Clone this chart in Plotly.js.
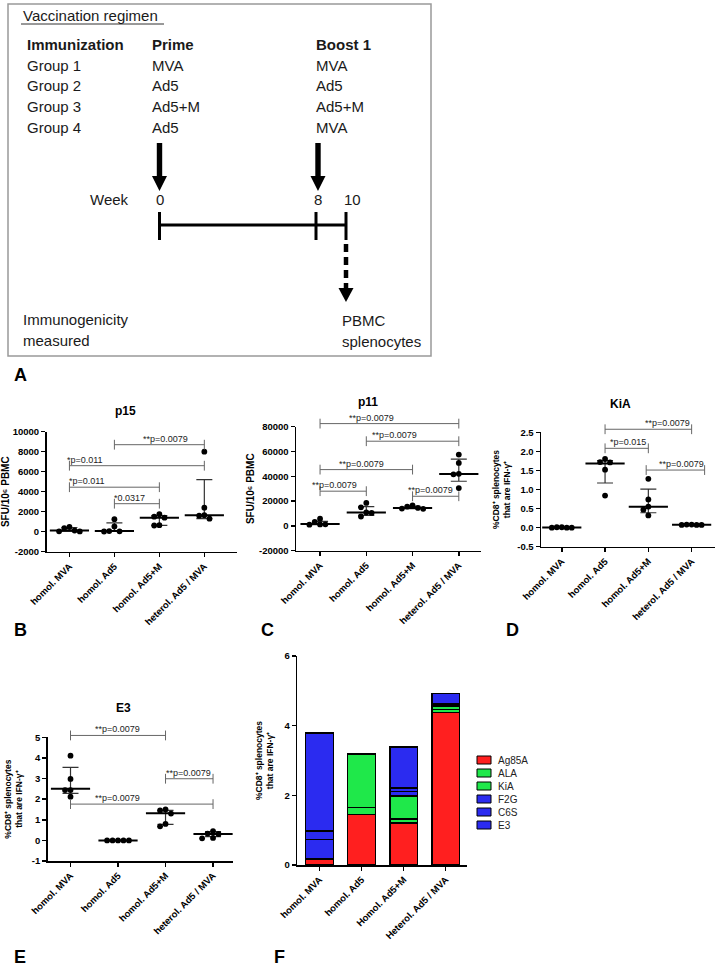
<!DOCTYPE html>
<html><head><meta charset="utf-8">
<script src="https://cdn.plot.ly/plotly-3.0.1.min.js"></script>
<style>html,body{margin:0;padding:0;background:#fff}#chart{width:716px;height:966px}</style>
</head><body><div id="chart"></div>
<script>
// ================= DATA =================
const groups  = ['homol. MVA', 'homol. Ad5', 'homol. Ad5+M', 'heterol. Ad5 / MVA'];
const groupsF = ['homol. MVA', 'homol. Ad5', 'Homol. Ad5+M', 'Heterol. Ad5 / MVA'];

// Panel B: p15 (SFU/10^6 PBMC)
const p15Values = [[480, 120, 30, 40, 360], [1250, 520, 40, 60, 20], [1500, 1400, 1750, 650, 620], [8000, 2400, 1600, 1300, 1650]];
const p15Median = [120, 60, 1400, 1650];
const p15Low    = [35, 30, 635, 1300];
const p15High   = [420, 880, 1620, 5200];
const p15SigFrom = [1, 0, 0, 1];
const p15SigTo   = [3, 3, 2, 2];
const p15SigY    = [8700, 6600, 4450, 2800];
const p15SigText = ['**p=0.0079', '*p=0.011', '*p=0.011', '*0.0317'];

// Panel C: p11 (SFU/10^6 PBMC)
const p11Values = [[5800, 1300, 1000, 1200, 3200], [18500, 15000, 10800, 10500, 7600], [16500, 15500, 14000, 13800, 14500], [57500, 50800, 41600, 42000, 30500]];
const p11Median = [1500, 10800, 14500, 41800];
const p11Low    = [1100, 8500, 14000, 36000];
const p11High   = [3700, 15500, 15800, 53800];
const p11SigFrom = [0, 1, 0, 0, 2];
const p11SigTo   = [3, 3, 2, 1, 3];
const p11SigY    = [82500, 68300, 45400, 28000, 23900];
const p11SigText = ['**p=0.0079', '**p=0.0079', '**p=0.0079', '**p=0.0079', '**p=0.0079'];

// Panel D: KiA (%CD8+ IFN-g+)
const kiaValues = [[0.01, 0.0, 0.0, 0.0, 0.01], [1.80, 1.71, 1.72, 1.52, 0.84], [1.28, 0.74, 0.55, 0.47, 0.32], [0.08, 0.07, 0.07, 0.08, 0.07]];
const kiaMedian = [0.005, 1.68, 0.55, 0.075];
const kiaLow    = [0.0, 1.17, 0.39, 0.07];
const kiaHigh   = [0.01, 1.76, 1.01, 0.08];
const kiaSigFrom = [1, 1, 1.95];
const kiaSigTo   = [3, 2, 3.3];
const kiaSigY    = [2.58, 2.08, 1.51];
const kiaSigText = ['**p=0.0079', '*p=0.015', '**p=0.0079'];

// Panel E: E3 (%CD8+ IFN-g+)
const e3Values = [[4.11, 2.98, 2.44, 2.44, 2.12], [0, 0, 0, 0, 0], [1.45, 1.50, 1.30, 0.80, 0.68], [0.45, 0.31, 0.33, 0.10, 0.12]];
const e3Median = [2.50, 0.0, 1.32, 0.31];
const e3Low    = [2.28, 0.0, 0.78, 0.18];
const e3High   = [3.54, 0.0, 1.46, 0.42];
const e3SigFrom = [0, 2, 0];
const e3SigTo   = [2, 3, 3];
const e3SigY    = [5.09, 2.99, 1.76];
const e3SigText = ['**p=0.0079', '**p=0.0079', '**p=0.0079'];

// Panel F: stacked means per antigen
const antigens = ['Ag85A', 'ALA', 'KiA', 'F2G', 'C6S', 'E3'];
const stackAg85A = [0.16, 1.45, 1.20, 4.38];
const stackALA   = [0.01, 0.20, 0.12, 0.09];
const stackKiA   = [0.01, 1.52, 0.66, 0.08];
const stackF2G   = [0.55, 0.01, 0.13, 0.05];
const stackC6S   = [0.24, 0.01, 0.10, 0.04];
const stackE3    = [2.82, 0.00, 1.18, 0.29];

// ================= STYLE / LAYOUT HELPERS =================
const W = 716, H = 966;
const FONT = 'Liberation Sans, Arial, sans-serif';
const px = x => x / W;
const py = y => 1 - y / H;
const P = (x, y) => px(x).toFixed(5) + ',' + py(y).toFixed(5);
const RED = '#ff1f1f', GREEN = '#1fe84a', BLUE = '#2b2bf0';

const traces = [];
const shapes = [];
const annotations = [];
const layout = {
  width: W, height: H, margin: {l: 0, r: 0, t: 0, b: 0},
  paper_bgcolor: '#ffffff', plot_bgcolor: 'rgba(0,0,0,0)',
  showlegend: false, barmode: 'stack', font: {family: FONT, color: '#000', size: 10},
  shapes: shapes, annotations: annotations
};

const labelX = {  // label anchor positions (category units) for the p-value texts
  p15: [2.13, 0.35, 0.40, 1.33],
  p11: [1.12, 1.62, 0.90, 0.32, 2.38],
  kia: [2.44, 1.52, 2.77],
  e3:  [0.98, 2.49, 0.98]
};

function axName(id) { return id.charAt(0) + 'axis' + id.slice(1); }

function swarm(vals, ySpan, plotPx) {
  const thr = ySpan * 5.6 / plotPx;
  const d = 0.115;
  const order = vals.map((v, i) => i).sort((a, b) => vals[b] - vals[a]);
  const placed = [];
  const xs = new Array(vals.length);
  order.forEach(i => {
    const v = vals[i];
    const cands = [0, -1, 1, -2, 2, -3, 3];
    for (const k of cands) {
      const x = k * d;
      const clash = placed.some(p => Math.abs(p.x - x) < d * 0.95 && Math.abs(p.y - v) < thr);
      if (!clash) { placed.push({x: x, y: v}); xs[i] = x; break; }
    }
  });
  return xs;
}

function axisCommon() {
  return {
    showline: true, linecolor: '#000', linewidth: 1.5, mirror: false,
    ticks: 'outside', ticklen: 4, tickwidth: 1.5, tickcolor: '#000',
    showgrid: false, zeroline: false, fixedrange: true,
    tickfont: {family: FONT, size: 9.5, color: '#000', weight: 'bold'}
  };
}

function scatterPanel(c) {
  const dom = [px(c.xPx[0]), px(c.xPx[1])];
  const ydom = [py(c.yPx[1]), py(c.yPx[0])];
  const ySpan = c.yr[1] - c.yr[0];
  const plotPx = c.yPx[1] - c.yPx[0];
  layout[axName(c.xa)] = Object.assign(axisCommon(), {
    domain: dom, range: c.xr, anchor: c.ya, tickmode: 'array',
    tickvals: [0, 1, 2, 3], ticktext: c.cats || groups, tickangle: -45
  });
  layout[axName(c.ya)] = Object.assign(axisCommon(), {
    domain: ydom, range: c.yr, anchor: c.xa, tickmode: 'array', tickvals: c.yTicks,
    ticktext: c.yTickText,
    title: {text: c.ytitle, font: {family: FONT, size: c.ytitleSize || 9, color: '#000', weight: 'bold'}, standoff: c.standoff || 3}
  });
  // extended invisible axis (same scale) so that significance brackets are not clipped
  const ext = 0.04;
  const perDom = ySpan / (ydom[1] - ydom[0]);
  layout[axName(c.sa)] = {
    domain: [ydom[0], ydom[1] + ext], range: [c.yr[0], c.yr[1] + ext * perDom],
    anchor: c.xa, visible: false, fixedrange: true
  };
  // median + interquartile range
  traces.push({
    type: 'scatter', mode: 'markers', x: [0, 1, 2, 3], y: c.median,
    xaxis: c.xa, yaxis: c.ya, hoverinfo: 'skip',
    marker: {symbol: 'line-ew-open', size: 28, color: '#000', line: {width: 2, color: '#000'}},
    error_y: {type: 'data', symmetric: false,
      array: c.high.map((h, i) => h - c.median[i]),
      arrayminus: c.low.map((l, i) => c.median[i] - l),
      width: 8, thickness: 1.2, color: '#333'}
  });
  // individual animals
  const xs = [], ys = [];
  c.values.forEach((vals, g) => {
    const off = swarm(vals, ySpan, plotPx);
    vals.forEach((v, i) => { xs.push(g + off[i]); ys.push(v); });
  });
  traces.push({
    type: 'scatter', mode: 'markers', x: xs, y: ys, xaxis: c.xa, yaxis: c.ya,
    hoverinfo: 'skip', marker: {symbol: 'circle', size: 5.8, color: '#000'}
  });
  // significance brackets
  c.sigFrom.forEach((a, i) => {
    const b = c.sigTo[i], h = c.sigY[i];
    traces.push({
      type: 'scatter', mode: 'lines+markers', x: [a, b], y: [h, h],
      xaxis: c.xa, yaxis: c.sa, hoverinfo: 'skip',
      line: {color: '#666', width: 1},
      marker: {symbol: 'line-ns-open', size: 7, line: {color: '#666', width: 1}}
    });
    annotations.push({
      xref: c.xa, yref: c.sa, x: c.sigLabelX[i], y: h, text: c.sigText[i],
      showarrow: false, xanchor: 'center', yanchor: 'bottom', yshift: -1,
      font: {family: FONT, size: 9, color: '#222'}
    });
  });
}

const cd8Title = '%CD8⁺ splenocytes<br>that are IFN-γ⁺';
const sfuTitle = 'SFU/10⁶ PBMC';

scatterPanel({xa: 'x', ya: 'y', sa: 'y6', xPx: [46.5, 236.7], yPx: [431.7, 551.7], xr: [-0.51, 3.72],
  yr: [-2000, 10000], yTicks: [-2000, 0, 2000, 4000, 6000, 8000, 10000],
  yTickText: ['-2000', '0', '2000', '4000', '6000', '8000', '10000'],
  ytitle: sfuTitle, ytitleSize: 10, standoff: 2,
  values: p15Values, median: p15Median, low: p15Low, high: p15High,
  sigFrom: p15SigFrom, sigTo: p15SigTo, sigY: p15SigY, sigText: p15SigText, sigLabelX: labelX.p15});

scatterPanel({xa: 'x2', ya: 'y2', sa: 'y7', xPx: [296, 481], yPx: [426.7, 550.7], xr: [-0.52, 3.48],
  yr: [-20000, 80000], yTicks: [-20000, 0, 20000, 40000, 60000, 80000],
  yTickText: ['-20000', '0', '20000', '40000', '60000', '80000'],
  ytitle: sfuTitle, ytitleSize: 10, standoff: 2,
  values: p11Values, median: p11Median, low: p11Low, high: p11High,
  sigFrom: p11SigFrom, sigTo: p11SigTo, sigY: p11SigY, sigText: p11SigText, sigLabelX: labelX.p11});

scatterPanel({xa: 'x3', ya: 'y3', sa: 'y8', xPx: [541, 715], yPx: [432.3, 546.7], xr: [-0.48, 3.54],
  yr: [-0.5, 2.5], yTicks: [-0.5, 0, 0.5, 1, 1.5, 2, 2.5],
  yTickText: ['-0.5', '0.0', '0.5', '1.0', '1.5', '2.0', '2.5'],
  ytitle: cd8Title, ytitleSize: 8.5, standoff: 5,
  values: kiaValues, median: kiaMedian, low: kiaLow, high: kiaHigh,
  sigFrom: kiaSigFrom, sigTo: kiaSigTo, sigY: kiaSigY, sigText: kiaSigText, sigLabelX: labelX.kia});

scatterPanel({xa: 'x4', ya: 'y4', sa: 'y9', xPx: [47.7, 233], yPx: [737.3, 861], xr: [-0.48, 3.42],
  yr: [-1, 5], yTicks: [-1, 0, 1, 2, 3, 4, 5],
  yTickText: ['-1', '0', '1', '2', '3', '4', '5'],
  ytitle: cd8Title, ytitleSize: 8.5, standoff: 8,
  values: e3Values, median: e3Median, low: e3Low, high: e3High,
  sigFrom: e3SigFrom, sigTo: e3SigTo, sigY: e3SigY, sigText: e3SigText, sigLabelX: labelX.e3});

// ---------- Panel F: stacked bars ----------
const stackSeries = [stackAg85A, stackALA, stackKiA, stackF2G, stackC6S, stackE3];
const stackColors = [RED, GREEN, GREEN, BLUE, BLUE, BLUE];
stackSeries.forEach((s, i) => {
  traces.push({
    type: 'bar', name: antigens[i], x: [0, 1, 2, 3], y: s, width: 0.66,
    xaxis: 'x5', yaxis: 'y5', hoverinfo: 'skip',
    marker: {color: stackColors[i], line: {color: '#000', width: 1.5}}
  });
});
layout.xaxis5 = Object.assign(axisCommon(), {
  domain: [px(297.3), px(466.7)], range: [-0.53, 3.5], anchor: 'y5',
  tickmode: 'array', tickvals: [0, 1, 2, 3], ticktext: groupsF, tickangle: -45
});
layout.yaxis5 = Object.assign(axisCommon(), {
  domain: [py(865), py(656)], range: [0, 6], anchor: 'x5', tickmode: 'array',
  tickvals: [0, 2, 4, 6], ticktext: ['0', '2', '4', '6'],
  title: {text: cd8Title, font: {family: FONT, size: 8.5, color: '#000', weight: 'bold'}, standoff: 9}
});
// legend for panel F
antigens.forEach((name, i) => {
  const yc = 760 + i * 13;
  shapes.push({type: 'rect', xref: 'paper', yref: 'paper', x0: px(477), x1: px(491), y0: py(yc + 4), y1: py(yc - 4),
    fillcolor: stackColors[i], line: {color: '#000', width: 1}});
  annotations.push({xref: 'paper', yref: 'paper', x: px(496), y: py(yc), text: name, showarrow: false,
    xanchor: 'left', yanchor: 'middle', font: {family: FONT, size: 10, color: '#222'}});
});

// ---------- subplot titles ----------
[['p15', 125, 411], ['p11', 368, 402], ['KiA', 620, 404], ['E3', 123, 708]].forEach(t => {
  annotations.push({xref: 'paper', yref: 'paper', x: px(t[1]), y: py(t[2]), text: t[0],
    showarrow: false, xanchor: 'center', yanchor: 'middle', font: {family: FONT, size: 12, color: '#000', weight: 'bold'}});
});

// ---------- panel letters ----------
[['A', 12, 375], ['B', 12, 630], ['C', 259, 630], ['D', 504, 630], ['E', 12, 957], ['F', 272, 957]].forEach(t => {
  annotations.push({xref: 'paper', yref: 'paper', x: px(t[1]), y: py(t[2]), text: t[0],
    showarrow: false, xanchor: 'left', yanchor: 'middle', font: {family: FONT, size: 18, color: '#000', weight: 'bold'}});
});

// ---------- Panel A: vaccination regimen diagram ----------
shapes.push({type: 'rect', xref: 'paper', yref: 'paper', x0: px(8), x1: px(431), y0: py(356), y1: py(4),
  line: {color: '#999', width: 1.5}, fillcolor: 'rgba(0,0,0,0)'});
shapes.push({type: 'line', xref: 'paper', yref: 'paper', x0: px(21), x1: px(164), y0: py(24), y1: py(24),
  line: {color: '#333', width: 1}});
function dtext(t, x, y, anchor, bold) {
  annotations.push({xref: 'paper', yref: 'paper', x: px(x), y: py(y), text: t, showarrow: false,
    xanchor: anchor || 'left', yanchor: 'middle',
    font: {family: FONT, size: 15, color: '#1a1a1a', weight: bold ? 'bold' : 'normal'}});
}
dtext('Vaccination regimen', 21, 16);
dtext('Immunization', 25, 44, 'left', true);
dtext('Prime', 150, 44, 'left', true);
dtext('Boost 1', 314, 44, 'left', true);
const regimenGroups = ['Group 1', 'Group 2', 'Group 3', 'Group 4'];
const regimenPrime = ['MVA', 'Ad5', 'Ad5+M', 'Ad5'];
const regimenBoost = ['MVA', 'Ad5', 'Ad5+M', 'MVA'];
regimenGroups.forEach((g, i) => {
  const y = 65 + i * 21;
  dtext(g, 25, y); dtext(regimenPrime[i], 150, y); dtext(regimenBoost[i], 314, y);
});
dtext('Week', 88, 200);
dtext('0', 159.5, 200, 'center');
dtext('8', 318, 200, 'center');
dtext('10', 352, 200, 'center');
dtext('Immunogenicity', 21, 319);
dtext('measured', 21, 340);
dtext('PBMC', 340, 320);
dtext('splenocytes', 340, 341);

function arrowPath(x, yTop, yHeadStart, yTip) {
  return 'M' + P(x - 2.7, yTop) + ' L' + P(x + 2.7, yTop) + ' L' + P(x + 2.7, yHeadStart) +
    ' L' + P(x + 7.5, yHeadStart) + ' L' + P(x, yTip) + ' L' + P(x - 7.5, yHeadStart) +
    ' L' + P(x - 2.7, yHeadStart) + ' Z';
}
shapes.push({type: 'path', xref: 'paper', yref: 'paper', path: arrowPath(159.5, 143, 176, 191), fillcolor: '#000', line: {width: 0}});
shapes.push({type: 'path', xref: 'paper', yref: 'paper', path: arrowPath(318, 143, 176, 191), fillcolor: '#000', line: {width: 0}});
// timeline
shapes.push({type: 'line', xref: 'paper', yref: 'paper', x0: px(159.5), x1: px(346), y0: py(225), y1: py(225), line: {color: '#000', width: 3}});
[159.5, 316, 346].forEach(x => {
  shapes.push({type: 'line', xref: 'paper', yref: 'paper', x0: px(x), x1: px(x), y0: py(212), y1: py(240), line: {color: '#000', width: 3}});
});
// dashed arrow
shapes.push({type: 'line', xref: 'paper', yref: 'paper', x0: px(346), x1: px(346), y0: py(244), y1: py(288),
  line: {color: '#000', width: 4.5, dash: '8px,5px'}});
shapes.push({type: 'path', xref: 'paper', yref: 'paper',
  path: 'M' + P(338.5, 288) + ' L' + P(353.5, 288) + ' L' + P(346, 302) + ' Z', fillcolor: '#000', line: {width: 0}});

Plotly.newPlot('chart', traces, layout, {staticPlot: true, displayModeBar: false});
</script>
</body></html>
